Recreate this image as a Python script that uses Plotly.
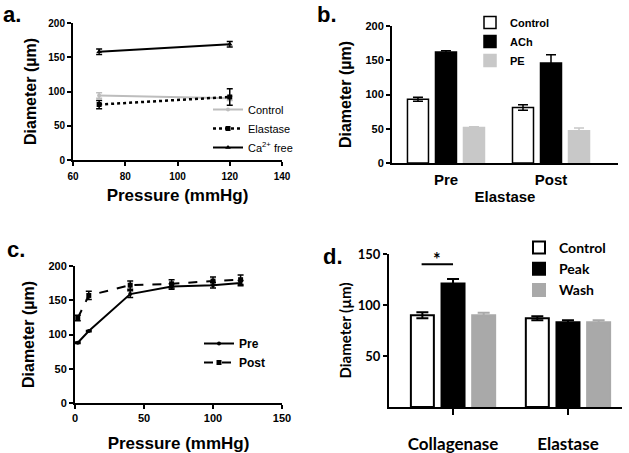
import plotly.graph_objects as go

W, H = 629, 453

# ---------------- data ----------------
a_pressure = [70, 120]
a_control = [94, 90]
a_control_err = [4, 3]
a_elastase = [81, 92]
a_elastase_err = [6, 12]
a_ca_free = [158, 169]
a_ca_free_err = [4, 4]

b_groups = ["Pre", "Post"]
b_control = [93, 81]
b_control_err = [3, 4]
b_ach = [162, 146]
b_ach_err = [2, 12]
b_pe = [52, 47]
b_pe_err = [1, 4]

c_pressure = [2, 10, 40, 70, 100, 120]
c_pre = [88, 105, 159, 170, 172, 175]
c_pre_err = [1, 1, 5, 4, 4, 4]
c_post = [124, 157, 172, 174, 178, 180]
c_post_err = [4, 6, 6, 6, 6, 7]

d_groups = ["Collagenase", "Elastase"]
d_control = [90, 87]
d_control_err = [3, 2]
d_peak = [121, 83]
d_peak_err = [4.5, 2]
d_wash = [90, 83]
d_wash_err = [2.5, 2]

FONT = "Liberation Sans, Arial, sans-serif"
DFONT = "Lato, Liberation Sans, sans-serif"


def px_x(p):
    return p / W


def px_y(p):
    return 1 - p / H


fig = go.Figure()


def err(vals, color="black", thick=1.5, width=3):
    return dict(type="data", array=vals, visible=True, color=color,
                thickness=thick, width=width)


# ---------------- panel a ----------------
fig.add_trace(go.Scatter(x=a_pressure, y=a_control, name="Control",
                         mode="lines+markers",
                         line=dict(color="#bdbdbd", width=2),
                         marker=dict(symbol="circle", size=4, color="#bdbdbd"),
                         error_y=err(a_control_err, "#bdbdbd"),
                         xaxis="x", yaxis="y", legend="legend"))
fig.add_trace(go.Scatter(x=a_pressure, y=a_elastase, name="Elastase",
                         mode="lines+markers",
                         line=dict(color="black", width=2.5, dash="dot"),
                         marker=dict(symbol="square", size=5, color="black"),
                         error_y=err(a_elastase_err),
                         xaxis="x", yaxis="y", legend="legend"))
fig.add_trace(go.Scatter(x=a_pressure, y=a_ca_free, name="Ca<sup>2+</sup> free",
                         mode="lines+markers",
                         line=dict(color="black", width=2),
                         marker=dict(symbol="triangle-up", size=5, color="black"),
                         error_y=err(a_ca_free_err),
                         xaxis="x", yaxis="y", legend="legend"))

# ---------------- panel b ----------------
bar_line = dict(color="black", width=1.5)
fig.add_trace(go.Bar(x=b_groups, y=b_control, name="Control",
                     marker=dict(color="white", line=bar_line),
                     error_y=err(b_control_err, width=5),
                     xaxis="x2", yaxis="y2", legend="legend2"))
fig.add_trace(go.Bar(x=b_groups, y=b_ach, name="ACh",
                     marker=dict(color="black", line=bar_line),
                     error_y=err(b_ach_err, width=5),
                     xaxis="x2", yaxis="y2", legend="legend2"))
fig.add_trace(go.Bar(x=b_groups, y=b_pe, name="PE",
                     marker=dict(color="#c8c8c8", line=dict(color="#c8c8c8", width=1.5)),
                     error_y=err(b_pe_err, color="#c8c8c8", width=5),
                     xaxis="x2", yaxis="y2", legend="legend2"))

# ---------------- panel c ----------------
fig.add_trace(go.Scatter(x=c_pressure, y=c_pre, name="Pre",
                         mode="lines+markers",
                         line=dict(color="black", width=2),
                         marker=dict(symbol="circle", size=4, color="black"),
                         error_y=err(c_pre_err),
                         xaxis="x3", yaxis="y3", legend="legend3"))
fig.add_trace(go.Scatter(x=c_pressure, y=c_post, name="Post",
                         mode="lines+markers",
                         line=dict(color="black", width=2, dash="dash"),
                         marker=dict(symbol="square", size=5, color="black"),
                         error_y=err(c_post_err),
                         xaxis="x3", yaxis="y3", legend="legend3"))

# ---------------- panel d ----------------
fig.add_trace(go.Bar(x=d_groups, y=d_control, name="Control",
                     marker=dict(color="white", line=dict(color="black", width=2)),
                     error_y=err(d_control_err, width=6, thick=2),
                     xaxis="x4", yaxis="y4", legend="legend4"))
fig.add_trace(go.Bar(x=d_groups, y=d_peak, name="Peak",
                     marker=dict(color="black", line=dict(color="black", width=2)),
                     error_y=err(d_peak_err, width=6, thick=2),
                     xaxis="x4", yaxis="y4", legend="legend4"))
fig.add_trace(go.Bar(x=d_groups, y=d_wash, name="Wash",
                     marker=dict(color="#a9a9a9", line=dict(color="#a9a9a9", width=2)),
                     error_y=err(d_wash_err, color="#a9a9a9", width=6, thick=2),
                     xaxis="x4", yaxis="y4", legend="legend4"))

# ---------------- axes ----------------
def axis_common(size, family=FONT):
    return dict(showline=True, linecolor="black", linewidth=2, ticks="outside",
                ticklen=4, tickwidth=2, tickcolor="black", showgrid=False,
                zeroline=False, mirror=False, automargin=False,
                tickfont=dict(family=family, size=size, color="black", weight="bold"))


def title_font(size, family=FONT):
    return dict(family=family, size=size, color="black", weight="bold")


layout_axes = dict(
    # panel a
    xaxis=dict(domain=[px_x(73), px_x(282)], anchor="y", range=[60, 140],
               tickvals=[60, 80, 100, 120, 140], ticklabelstandoff=2,
               title=dict(text="Pressure (mmHg)", font=title_font(17), standoff=8),
               **axis_common(10)),
    yaxis=dict(domain=[px_y(160), px_y(23)], anchor="x", range=[0, 200],
               tickvals=[0, 50, 100, 150, 200],
               title=dict(text="Diameter (µm)", font=title_font(16), standoff=8),
               **axis_common(10)),
    # panel b
    xaxis2=dict(domain=[px_x(392), px_x(618)], anchor="y2", type="category",
                range=[-0.514, 1.638], ticklabelstandoff=2,
                title=dict(text="Elastase", font=title_font(15), standoff=2),
                **{**axis_common(15), "ticks": "", "ticklen": 0}),
    yaxis2=dict(domain=[px_y(163), px_y(26)], anchor="x2", range=[0, 200],
                tickvals=[0, 50, 100, 150, 200],
                title=dict(text="Diameter (µm)", font=title_font(16), standoff=10),
                **axis_common(11)),
    # panel c
    xaxis3=dict(domain=[px_x(75), px_x(282)], anchor="y3", range=[0, 150],
                tickvals=[0, 50, 100, 150],
                title=dict(text="Pressure (mmHg)", font=title_font(17), standoff=18),
                **axis_common(11)),
    yaxis3=dict(domain=[px_y(403), px_y(266)], anchor="x3", range=[0, 200],
                tickvals=[0, 50, 100, 150, 200],
                title=dict(text="Diameter (µm)", font=title_font(16), standoff=10),
                **axis_common(11)),
    # panel d
    xaxis4=dict(domain=[px_x(389), px_x(622)], anchor="y4", type="category",
                range=[-0.557, 1.47], ticklabelstandoff=15,
                **{**axis_common(17, DFONT), "ticklen": 6}),
    yaxis4=dict(domain=[px_y(407), px_y(254)], anchor="x4", range=[0, 150],
                tickvals=[50, 100, 150],
                title=dict(text="Diameter (µm)", font=title_font(15, DFONT), standoff=3),
                **axis_common(13, DFONT)),
)

# significance bar in d: from Control bar centre to Peak bar centre of Collagenase
pitch_d = (1 - 0.18) / 3
fig.add_shape(type="line", xref="x4", yref="y4",
              x0=-pitch_d, x1=0, y0=140, y1=140,
              line=dict(color="black", width=2))
fig.add_annotation(text="*", xref="x4", yref="y4", x=-pitch_d / 2, y=145,
                   yanchor="middle", showarrow=False,
                   font=dict(family=DFONT, size=18, color="black", weight="bold"))

# panel letters
for letter, lx, ly in [("a.", 1, 14), ("b.", 315, 14), ("c.", 5, 249), ("d.", 321, 256)]:
    fig.add_annotation(text=letter, xref="paper", yref="paper",
                       x=px_x(lx), y=px_y(ly), xanchor="left", yanchor="middle",
                       showarrow=False,
                       font=dict(family=FONT, size=22, color="black", weight="bold"))

legend_base = dict(bgcolor="rgba(0,0,0,0)", borderwidth=0, tracegroupgap=0,
                   xanchor="left", yanchor="top", itemclick=False)

fig.update_layout(
    template="none",
    width=W, height=H, margin=dict(l=0, r=0, t=0, b=0, autoexpand=False),
    paper_bgcolor="white", plot_bgcolor="white",
    font=dict(family=FONT, color="black"),
    barmode="group", bargap=0.2, bargroupgap=0.25,
    showlegend=True,
    legend=dict(x=px_x(208), y=px_y(95),
                font=dict(family=FONT, size=11, color="black"), **legend_base),
    legend2=dict(x=px_x(470), y=px_y(8),
                 font=dict(family=FONT, size=11, color="black", weight="bold"), **legend_base),
    legend3=dict(x=px_x(199), y=px_y(329),
                 font=dict(family=FONT, size=12, color="black", weight="bold"), **legend_base),
    legend4=dict(x=px_x(519), y=px_y(232),
                 font=dict(family=DFONT, size=14, color="black", weight="bold"), **legend_base),
    **layout_axes,
)

fig.write_html("out.html", config={"displayModeBar": False},
               post_script="document.body.style.margin='0';")
